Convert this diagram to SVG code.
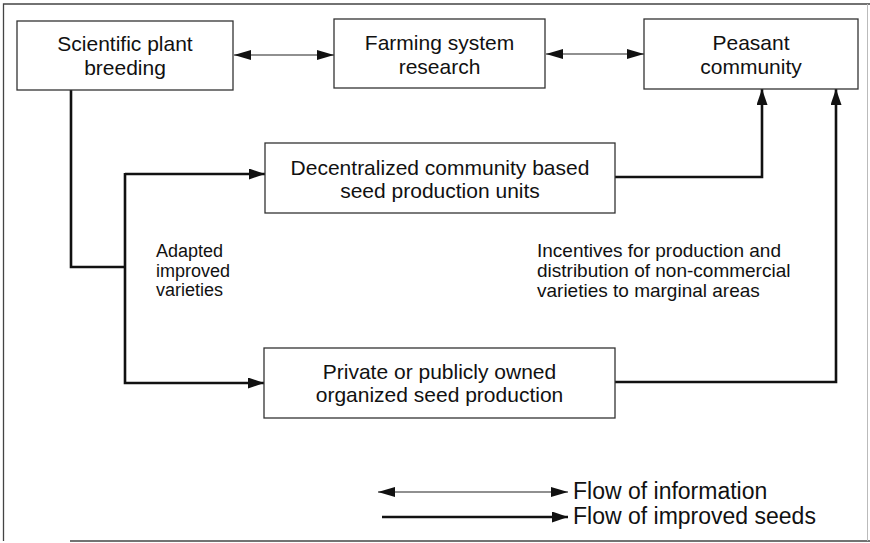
<svg xmlns="http://www.w3.org/2000/svg" width="870" height="543" viewBox="0 0 870 543">
<style>
.box{fill:#fff;stroke:#333;stroke-width:1.3}
.t{font-family:"Liberation Sans",Arial,Helvetica,sans-serif;font-size:21px;fill:#111;text-anchor:middle}
.s{font-family:"Liberation Sans",Arial,Helvetica,sans-serif;font-size:18px;fill:#111}
.i{font-family:"Liberation Sans",Arial,Helvetica,sans-serif;font-size:19px;fill:#111}
.l{font-family:"Liberation Sans",Arial,Helvetica,sans-serif;font-size:23px;fill:#111}
.info{fill:none;stroke:#222;stroke-width:1.2}
.seed{fill:none;stroke:#111;stroke-width:2.6}
.frame{fill:none;stroke:#444;stroke-width:1.3}
</style>
<defs>
<marker id="ah" markerUnits="userSpaceOnUse" markerWidth="18" markerHeight="12" refX="17" refY="5" orient="auto-start-reverse">
<path d="M0,0 L17,5 L0,10 z" fill="#111"/>
</marker>
<marker id="ahs" markerUnits="userSpaceOnUse" markerWidth="18" markerHeight="12" refX="16" refY="5.5" orient="auto-start-reverse">
<path d="M0,0 L16,5.5 L0,11 z" fill="#111"/>
</marker>
</defs>
<rect width="870" height="543" fill="#fff"/>
<g id="frame">
<path class="frame" d="M3.5,541 V4 H870"/>
<path class="frame" d="M70,541 H870"/>
<path d="M867.5,4 V541" stroke="#bbb" stroke-width="1" fill="none"/>
</g>
<g id="connectors">
<line class="info" x1="234" y1="55" x2="334" y2="55" marker-start="url(#ah)" marker-end="url(#ah)"/>
<line class="info" x1="546" y1="54" x2="644" y2="54" marker-start="url(#ah)" marker-end="url(#ah)"/>
<path class="seed" d="M71,90 V267 H125"/>
<path class="seed" d="M125,174 H265" marker-end="url(#ahs)"/>
<path class="seed" d="M125,173 V383 H264" marker-end="url(#ahs)"/>
<path class="seed" d="M615,177 H762 V89" marker-end="url(#ahs)"/>
<path class="seed" d="M615,382 H836 V89" marker-end="url(#ahs)"/>
</g>
<g id="spb">
<rect class="box" x="17" y="21" width="216" height="69"/>
<text class="t" x="125" y="51">Scientific plant</text>
<text class="t" x="125" y="75">breeding</text>
</g>
<g id="fsr">
<rect class="box" x="334" y="19" width="211" height="69"/>
<text class="t" x="439.5" y="50">Farming system</text>
<text class="t" x="439.5" y="74">research</text>
</g>
<g id="pc">
<rect class="box" x="644" y="19" width="214" height="70"/>
<text class="t" x="751" y="50">Peasant</text>
<text class="t" x="751" y="74">community</text>
</g>
<g id="dcb">
<rect class="box" x="265" y="143" width="350" height="70"/>
<text class="t" x="440" y="175">Decentralized community based</text>
<text class="t" x="440" y="198">seed production units</text>
</g>
<g id="pos">
<rect class="box" x="264" y="348" width="351" height="70"/>
<text class="t" x="439.5" y="379">Private or publicly owned</text>
<text class="t" x="439.5" y="402">organized seed production</text>
</g>
<g id="labels">
<text class="s" x="156" y="257">Adapted</text>
<text class="s" x="156" y="277">improved</text>
<text class="s" x="156" y="296">varieties</text>
<text class="i" x="537" y="257">Incentives for production and</text>
<text class="i" x="537" y="277">distribution of non-commercial</text>
<text class="i" x="537" y="297">varieties to marginal areas</text>
</g>
<g id="legend">
<line class="info" x1="378" y1="492" x2="568" y2="492" marker-start="url(#ah)" marker-end="url(#ah)"/>
<line class="seed" x1="382" y1="517" x2="568" y2="517" marker-end="url(#ahs)"/>
<text class="l" x="573" y="499">Flow of information</text>
<text class="l" x="573" y="524">Flow of improved seeds</text>
</g>
</svg>
